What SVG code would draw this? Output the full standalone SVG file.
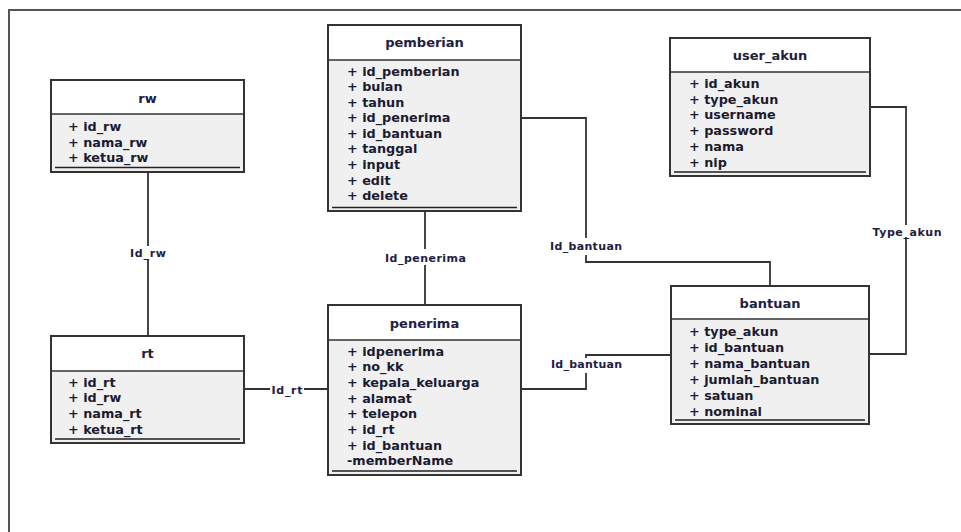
<svg xmlns="http://www.w3.org/2000/svg" width="961" height="532" viewBox="0 0 961 532">
  <style>
    .frame { fill: none; stroke: #555; stroke-width: 2; }
    .hdr { fill: #ffffff; }
    .body { fill: #f0f0f0; }
    .box { fill: none; stroke: #333; stroke-width: 2; }
    .div { stroke: #333; stroke-width: 1.5; }
    .end { stroke: #222; stroke-width: 1.5; }
    .title { font-family: "DejaVu Sans", Verdana, sans-serif; font-weight: bold; font-size: 13px; fill: #1e2040; text-anchor: middle; }
    .attr { font-family: "DejaVu Sans", Verdana, sans-serif; font-weight: bold; font-size: 12.8px; fill: #1b1b30; }
    .conn { fill: none; stroke: #333; stroke-width: 1.8; }
    .lbl { font-family: "DejaVu Sans", Verdana, sans-serif; font-weight: bold; font-size: 11px; fill: #1e2040; text-anchor: middle; }
  </style>

  <rect width="961" height="532" fill="#ffffff"/>
  <!-- page frame -->
  <path class="frame" d="M9 540 V10 H970"/>

  <!-- relationship lines -->
  <g id="connectors">
    <!-- rw - rt -->
    <path class="conn" d="M148 172 V246 M148 259 V336"/>
    <text class="lbl" x="148" y="257" textLength="36" lengthAdjust="spacing">Id_rw</text>
    <!-- pemberian - penerima -->
    <path class="conn" d="M425 211 V249 M425 265 V305"/>
    <text class="lbl" x="425.5" y="262" textLength="81" lengthAdjust="spacing">Id_penerima</text>
    <!-- pemberian - bantuan -->
    <path class="conn" d="M521 118 H586 V238 M586 255 V262 H770 V286"/>
    <text class="lbl" x="586" y="250" textLength="72" lengthAdjust="spacing">Id_bantuan</text>
    <!-- penerima - bantuan -->
    <path class="conn" d="M521 389 H586 V373 M586 358 V355 H671"/>
    <text class="lbl" x="586.5" y="368" textLength="71" lengthAdjust="spacing">Id_bantuan</text>
    <!-- user_akun - bantuan -->
    <path class="conn" d="M870 107 H906 V225 M906 237 V354 H869"/>
    <text class="lbl" x="907" y="235.5" textLength="69" lengthAdjust="spacing">Type_akun</text>
    <!-- rt - penerima -->
    <path class="conn" d="M244 389 H270 M304 389 H328"/>
    <text class="lbl" x="287" y="393.5" textLength="31" lengthAdjust="spacing">Id_rt</text>
  </g>

  <!-- rw -->
  <g id="rw">
    <rect class="hdr" x="51" y="80" width="193" height="34"/>
    <rect class="body" x="51" y="114" width="193" height="58"/>
    <rect class="box" x="51" y="80" width="193" height="92"/>
    <line class="div" x1="51" y1="114" x2="244" y2="114"/>
    <line class="end" x1="55" y1="167.5" x2="240" y2="167.5"/>
    <text class="title" x="147.5" y="102.5">rw</text>
    <text class="attr" x="68" y="131">+ id_rw</text>
    <text class="attr" x="68" y="146.5">+ nama_rw</text>
    <text class="attr" x="68" y="162">+ ketua_rw</text>
  </g>

  <!-- pemberian -->
  <g id="pemberian">
    <rect class="hdr" x="328" y="25" width="193" height="35"/>
    <rect class="body" x="328" y="60" width="193" height="151"/>
    <rect class="box" x="328" y="25" width="193" height="186"/>
    <line class="div" x1="328" y1="60" x2="521" y2="60"/>
    <line class="end" x1="332" y1="207.5" x2="517" y2="207.5"/>
    <text class="title" x="424.5" y="46.5">pemberian</text>
    <text class="attr" x="347" y="75.5">+ id_pemberian</text>
    <text class="attr" x="347" y="91">+ bulan</text>
    <text class="attr" x="347" y="106.5">+ tahun</text>
    <text class="attr" x="347" y="122">+ id_penerima</text>
    <text class="attr" x="347" y="137.5">+ id_bantuan</text>
    <text class="attr" x="347" y="153">+ tanggal</text>
    <text class="attr" x="347" y="169">+ input</text>
    <text class="attr" x="347" y="184.5">+ edit</text>
    <text class="attr" x="347" y="200">+ delete</text>
  </g>

  <!-- user_akun -->
  <g id="user_akun">
    <rect class="hdr" x="670" y="38" width="200" height="34"/>
    <rect class="body" x="670" y="72" width="200" height="104"/>
    <rect class="box" x="670" y="38" width="200" height="138"/>
    <line class="div" x1="670" y1="72" x2="870" y2="72"/>
    <line class="end" x1="674" y1="172" x2="866" y2="172"/>
    <text class="title" x="770" y="59.5">user_akun</text>
    <text class="attr" x="689" y="87.5">+ id_akun</text>
    <text class="attr" x="689" y="103.5">+ type_akun</text>
    <text class="attr" x="689" y="119">+ username</text>
    <text class="attr" x="689" y="134.5">+ password</text>
    <text class="attr" x="689" y="150.5">+ nama</text>
    <text class="attr" x="689" y="166.5">+ nip</text>
  </g>

  <!-- rt -->
  <g id="rt">
    <rect class="hdr" x="51" y="336" width="193" height="35"/>
    <rect class="body" x="51" y="371" width="193" height="72"/>
    <rect class="box" x="51" y="336" width="193" height="107"/>
    <line class="div" x1="51" y1="371" x2="244" y2="371"/>
    <line class="end" x1="55" y1="439" x2="240" y2="439"/>
    <text class="title" x="147.5" y="357.5">rt</text>
    <text class="attr" x="68" y="386.5">+ id_rt</text>
    <text class="attr" x="68" y="402">+ id_rw</text>
    <text class="attr" x="68" y="418">+ nama_rt</text>
    <text class="attr" x="68" y="434">+ ketua_rt</text>
  </g>

  <!-- penerima -->
  <g id="penerima">
    <rect class="hdr" x="328" y="305" width="193" height="35"/>
    <rect class="body" x="328" y="340" width="193" height="135"/>
    <rect class="box" x="328" y="305" width="193" height="170"/>
    <line class="div" x1="328" y1="340" x2="521" y2="340"/>
    <line class="end" x1="332" y1="471" x2="517" y2="471"/>
    <text class="title" x="424.5" y="327.5">penerima</text>
    <text class="attr" x="347" y="355.5">+ idpenerima</text>
    <text class="attr" x="347" y="371">+ no_kk</text>
    <text class="attr" x="347" y="386.5">+ kepala_keluarga</text>
    <text class="attr" x="347" y="402.5">+ alamat</text>
    <text class="attr" x="347" y="418">+ telepon</text>
    <text class="attr" x="347" y="433.5">+ id_rt</text>
    <text class="attr" x="347" y="449.5">+ id_bantuan</text>
    <text class="attr" x="347" y="465">-memberName</text>
  </g>

  <!-- bantuan -->
  <g id="bantuan">
    <rect class="hdr" x="671" y="286" width="198" height="33"/>
    <rect class="body" x="671" y="319" width="198" height="105"/>
    <rect class="box" x="671" y="286" width="198" height="138"/>
    <line class="div" x1="671" y1="319" x2="869" y2="319"/>
    <line class="end" x1="675" y1="420" x2="865" y2="420"/>
    <text class="title" x="770" y="307.5">bantuan</text>
    <text class="attr" x="689" y="336">+ type_akun</text>
    <text class="attr" x="689" y="352">+ id_bantuan</text>
    <text class="attr" x="689" y="367.5">+ nama_bantuan</text>
    <text class="attr" x="689" y="383.5">+ jumlah_bantuan</text>
    <text class="attr" x="689" y="399.5">+ satuan</text>
    <text class="attr" x="689" y="415.5">+ nominal</text>
  </g>
</svg>
